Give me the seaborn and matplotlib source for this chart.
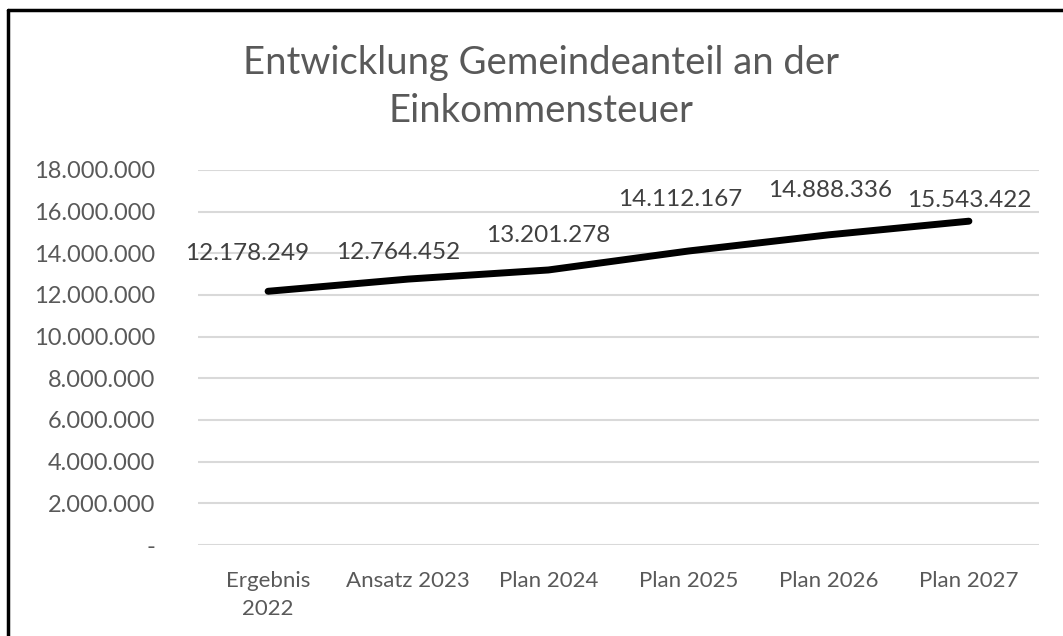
import matplotlib
matplotlib.use("Agg")
import matplotlib.pyplot as plt
import pandas as pd
import seaborn as sns
from matplotlib.lines import Line2D

# data
kategorien = ["Ergebnis\n2022", "Ansatz 2023", "Plan 2024", "Plan 2025", "Plan 2026", "Plan 2027"]
werte = [12178249, 12764452, 13201278, 14112167, 14888336, 15543422]
y_ticks = [0, 2000000, 4000000, 6000000, 8000000, 10000000, 12000000, 14000000, 16000000, 18000000]

# label offsets in points (dx, dy), placed by hand like in the original
label_offsets = [(-15, 27), (-7, 19), (0, 25), (-6, 37), (1, 32), (0, 15)]

sns.set_style("white")
plt.rcParams["font.family"] = ["Lato", "DejaVu Sans"]
grau = "#595959"

df = pd.DataFrame({"pos": range(len(kategorien)), "wert": werte})

fig = plt.figure(figsize=(10.63, 6.36), dpi=100)
ax = fig.add_axes([198 / 1063, 1 - 545 / 636, (1039 - 198) / 1063, (545 - 170) / 636])

sns.lineplot(data=df, x="pos", y="wert", color="black", linewidth=5,
             solid_capstyle="round", ax=ax, zorder=3)

ax.set_xlim(-0.5, len(kategorien) - 0.5)
ax.set_ylim(0, 18000000)
ax.set_yticks(y_ticks)
ax.set_yticklabels(["-" if v == 0 else f"{v:,}".replace(",", ".") for v in y_ticks])
ax.set_xticks(range(len(kategorien)))
ax.set_xticklabels(kategorien, linespacing=1.5)
ax.tick_params(axis="y", labelsize=17, colors=grau, length=0, pad=31)
ax.tick_params(axis="x", labelsize=16, colors=grau, length=0, pad=19)
ax.set_xlabel("")
ax.set_ylabel("")

ax.grid(axis="y", color="#D9D9D9", linewidth=1.5)
ax.set_axisbelow(True)
for s in ax.spines.values():
    s.set_visible(False)

for i, v in enumerate(werte):
    ax.annotate(f"{v:,}".replace(",", "."), (i, v), xytext=label_offsets[i],
                textcoords="offset points", ha="center", va="center",
                fontsize=17.5, color="#404040")

fig.text(541 / 1063, 1 - 87 / 636, "Entwicklung Gemeindeanteil an der\nEinkommensteuer",
         ha="center", va="center", fontsize=27.5, color=grau, linespacing=1.38)

# black frame (left and top edges visible)
fig.add_artist(Line2D([8 / 1063, 8 / 1063], [0, 1 - 10 / 636], transform=fig.transFigure,
                      color="black", linewidth=2.5))
fig.add_artist(Line2D([8 / 1063, 1], [1 - 10 / 636, 1 - 10 / 636], transform=fig.transFigure,
                      color="black", linewidth=2.5))

fig.savefig("out.png", dpi=100)
